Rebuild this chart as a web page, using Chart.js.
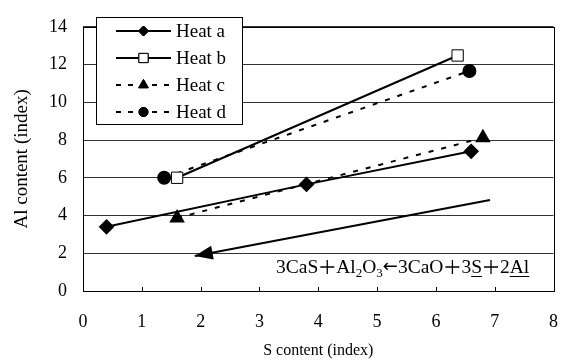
<!DOCTYPE html>
<html>
<head>
<meta charset="utf-8">
<style>
  html, body { margin: 0; padding: 0; background: #fff; }
  #wrap { width: 578px; height: 361px; }
</style>
</head>
<body>
<div id="wrap"><canvas id="chart" width="578" height="361"></canvas></div>
<script src="https://cdn.jsdelivr.net/npm/chart.js"></script>
<script>
// data
const seriesNames = ['Heat a', 'Heat b', 'Heat c', 'Heat d'];
const heatAX = [0.4, 3.8, 6.6];
const heatAY = [3.4, 5.65, 7.4];
const heatBX = [1.6, 6.37];
const heatBY = [6.0, 12.48];
const heatCX = [1.6, 6.8];
const heatCY = [3.87, 8.12];
const heatDX = [1.38, 6.57];
const heatDY = [6.0, 11.66];
const arrowX = [6.92, 1.9];
const arrowY = [4.82, 1.86];
const xTicks = [0, 1, 2, 3, 4, 5, 6, 7, 8];
const yTicks = [0, 2, 4, 6, 8, 10, 12, 14];

const serif = '"Liberation Serif", "Times New Roman", serif';

function pts(xs, ys) {
    return xs.map((x, i) => ({ x: x, y: ys[i] }));
}

// line + marker legend, like the spreadsheet one
const boxLegend = {
    id: 'boxLegend',
    afterDraw(chart) {
        const ctx = chart.ctx;
        ctx.save();
        ctx.fillStyle = '#fff';
        ctx.fillRect(96, 17, 146, 107);
        ctx.strokeStyle = '#000';
        ctx.lineWidth = 1;
        ctx.strokeRect(96.5, 17.5, 146, 107);
        seriesNames.forEach((name, i) => {
            const ds = chart.data.datasets[i];
            const y = 31 + i * 27;
            ctx.strokeStyle = '#000';
            ctx.lineWidth = 2;
            ctx.setLineDash(ds.borderDash ? [5, 7] : []);
            ctx.beginPath();
            ctx.moveTo(116, y);
            ctx.lineTo(171, y);
            ctx.stroke();
            ctx.setLineDash([]);
            ctx.lineWidth = 1;
            Chart.helpers.drawPoint(ctx, {
                pointStyle: ds.pointStyle,
                radius: ds.pointRadius - 1.5,
                borderWidth: 1
            }, 143.5, y);
            ctx.fillStyle = ds.pointBackgroundColor;
            ctx.fill();
            ctx.stroke();
            ctx.fillStyle = '#000';
            ctx.font = '19px ' + serif;
            ctx.textBaseline = 'middle';
            ctx.fillText(name, 176, y + 1);
        });
        ctx.restore();
    }
};

// plot frame, inward x ticks, reaction arrow and equation
const extras = {
    id: 'extras',
    afterDatasetsDraw(chart) {
        const ctx = chart.ctx;
        const a = chart.chartArea;
        const xs = chart.scales.x, ys = chart.scales.y;
        ctx.save();
        ctx.strokeStyle = '#000';
        ctx.lineWidth = 1;
        ctx.strokeRect(Math.round(a.left) + 0.5, Math.round(a.top) + 0.5,
            Math.round(a.right - a.left), Math.round(a.bottom - a.top));
        xTicks.forEach(t => {
            const px = Math.round(xs.getPixelForValue(t)) + 0.5;
            ctx.beginPath();
            ctx.moveTo(px, a.bottom);
            ctx.lineTo(px, a.bottom - 4);
            ctx.stroke();
        });

        // arrow head at the end of the arrow dataset
        const p0 = { x: xs.getPixelForValue(arrowX[0]), y: ys.getPixelForValue(arrowY[0]) };
        const p1 = { x: xs.getPixelForValue(arrowX[1]), y: ys.getPixelForValue(arrowY[1]) };
        const ang = Math.atan2(p1.y - p0.y, p1.x - p0.x);
        const len = 18, half = 7;
        ctx.fillStyle = '#000';
        ctx.beginPath();
        ctx.moveTo(p1.x, p1.y);
        ctx.lineTo(p1.x - len * Math.cos(ang) + half * Math.sin(ang), p1.y - len * Math.sin(ang) - half * Math.cos(ang));
        ctx.lineTo(p1.x - len * Math.cos(ang) - half * Math.sin(ang), p1.y - len * Math.sin(ang) + half * Math.cos(ang));
        ctx.closePath();
        ctx.fill();

        // 3CaS + Al2O3 <- 3CaO + 3S + 2Al
        const pieces = [
            { t: '3CaS' }, { t: '+', plus: true }, { t: 'Al' }, { t: '2', sub: true }, { t: 'O' }, { t: '3', sub: true },
            { t: '\u2190', arrow: true }, { t: '3CaO' }, { t: '+', plus: true }, { t: '3' }, { t: 'S', u: true },
            { t: '+', plus: true }, { t: '2' }, { t: 'Al', u: true }
        ];
        const big = '19.5px ' + serif, small = '13px ' + serif;
        let x = 276;
        const base = 273;
        ctx.textBaseline = 'alphabetic';
        ctx.textAlign = 'left';
        pieces.forEach(p => {
            ctx.font = p.sub ? small : (p.arrow ? '18px "DejaVu Sans", sans-serif' : big);
            const w = ctx.measureText(p.t).width;
            if (p.plus) {
                ctx.lineWidth = 1.3;
                const cx = x + 9, cy = base - 6;
                ctx.beginPath();
                ctx.moveTo(cx - 7, cy); ctx.lineTo(cx + 7, cy);
                ctx.moveTo(cx, cy - 7); ctx.lineTo(cx, cy + 7);
                ctx.stroke();
                ctx.fillStyle = 'rgba(0,0,0,0)';
                ctx.fillText(p.t, cx - w / 2, base);
                x += 18;
                return;
            }
            ctx.fillStyle = '#000';
            ctx.fillText(p.t, x, p.sub ? base + 4 : (p.arrow ? base - 1 : base));
            if (p.u) {
                ctx.lineWidth = 1;
                ctx.beginPath();
                ctx.moveTo(x, base + 3.5);
                ctx.lineTo(x + w, base + 3.5);
                ctx.stroke();
            }
            x += w;
        });
        ctx.restore();
    }
};

new Chart(document.getElementById('chart'), {
    type: 'line',
    data: {
        datasets: [
            {
                label: 'Heat a', data: pts(heatAX, heatAY),
                borderColor: '#000', borderWidth: 2,
                pointStyle: 'rectRot', pointRadius: 6.5,
                pointBackgroundColor: '#000', pointBorderColor: '#000'
            },
            {
                label: 'Heat b', data: pts(heatBX, heatBY),
                borderColor: '#000', borderWidth: 2,
                pointStyle: 'rect', pointRadius: 8,
                pointBackgroundColor: '#fff', pointBorderColor: '#000', pointBorderWidth: 1
            },
            {
                label: 'Heat c', data: pts(heatCX, heatCY),
                borderColor: '#000', borderWidth: 2, borderDash: [5, 8],
                pointStyle: 'triangle', pointRadius: 7,
                pointBackgroundColor: '#000', pointBorderColor: '#000'
            },
            {
                label: 'Heat d', data: pts(heatDX, heatDY),
                borderColor: '#000', borderWidth: 2, borderDash: [5, 8],
                pointStyle: 'circle', pointRadius: 6,
                pointBackgroundColor: '#000', pointBorderColor: '#000'
            },
            {
                label: 'arrow', data: pts(arrowX, arrowY),
                borderColor: '#000', borderWidth: 2, pointRadius: 0
            }
        ]
    },
    options: {
        responsive: false,
        animation: false,
        layout: { padding: { top: 13, right: 17, left: 0, bottom: 0 } },
        plugins: {
            legend: { display: false },
            tooltip: { enabled: false }
        },
        scales: {
            x: {
                type: 'linear', min: 0, max: 8,
                afterBuildTicks: s => { s.ticks = xTicks.map(v => ({ value: v })); },
                afterFit: s => { s.height = 70; },
                grid: { display: false, drawTicks: false },
                border: { display: false },
                ticks: { color: '#000', padding: 20, font: { family: serif, size: 18 } },
                title: {
                    display: true, text: 'S content (index)', color: '#000',
                    padding: { top: 0, bottom: 1 }, font: { family: serif, size: 16 }
                }
            },
            y: {
                type: 'linear', min: 0, max: 14,
                afterBuildTicks: s => { s.ticks = yTicks.map(v => ({ value: v })); },
                afterFit: s => { s.width = 83; },
                grid: { color: '#333', lineWidth: 1, drawTicks: false },
                border: { display: false },
                ticks: { color: '#000', padding: 16, font: { family: serif, size: 18 } },
                title: {
                    display: true, text: 'Al content (index)', color: '#000',
                    padding: { top: 11, bottom: 0 }, font: { family: serif, size: 19 }
                }
            }
        }
    },
    plugins: [extras, boxLegend]
});
</script>
</body>
</html>
